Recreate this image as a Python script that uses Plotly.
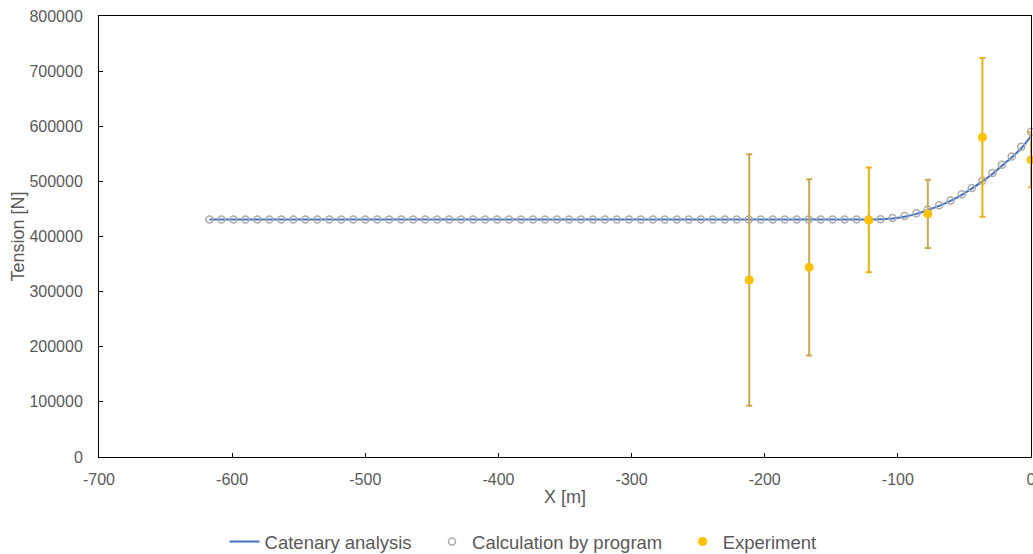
import plotly.graph_objects as go

# ---------------- data ----------------
calc_x = [0, -7.3, -14.5, -21.8, -29.0, -36.5, -44.5, -52.0, -60.5, -69.0, -77.5, -86.0, -95.0, -104.0,
          -113, -122, -131, -140, -149, -158, -167, -176, -185, -194, -203, -212, -221, -230, -239,
          -248, -257, -266, -275, -284, -293, -302, -311, -320, -329, -338, -347, -356, -365, -374,
          -383, -392, -401, -410, -419, -428, -437, -446, -455, -464, -473, -482, -491, -500, -509,
          -518, -527, -536, -545, -554, -563, -572, -581, -590, -599, -608, -617]
calc_y = [590000, 563000, 545000, 530000, 515000, 501000, 488000, 476500, 465500, 456500, 449000,
          442000, 437000, 433500, 431500] + [431000] * 56

cat_x = [-617, -130, -113, -104, -95, -86, -77.5, -69, -60.5, -52, -44.5, -36.5, -29, -21.8, -14.5, -7.3, 0]
cat_y = [431000, 431000, 431300, 432800, 436000, 441000, 448000, 455500, 464500, 475500, 487000,
         500000, 513500, 528500, 543500, 560000, 582000]

exp_x = [-211.6, -166.6, -121.8, -77.5, -36.5, 0]
exp_y = [321000, 344000, 430000, 441000, 580000, 539000]
exp_err = [228000, 160000, 95000, 62000, 144000, 50000]

x_ticks = [-700, -600, -500, -400, -300, -200, -100, 0]
x_tick_labels = ["-700", "-600", "-500", "-400", "-300", "-200", "-100", "0"]
y_ticks = [0, 100000, 200000, 300000, 400000, 500000, 600000, 700000, 800000]

series_names = ["Catenary analysis", "Calculation by program", "Experiment"]

# ---------------- style ----------------
FONT = "Liberation Sans, Arial, sans-serif"
GREY = "#595959"
muted_idx = [0, 1, 3]
bright_idx = [2, 4, 5]
PAD = "\u00a0" * 3  # extra spacing between legend entries

fig = go.Figure()

fig.add_trace(go.Scatter(
    x=cat_x, y=cat_y, mode="lines", name=series_names[0] + PAD,
    line=dict(color="#4472C4", width=2, shape="spline"), cliponaxis=False,
))
fig.add_trace(go.Scatter(
    x=calc_x, y=calc_y, mode="markers", name=series_names[1] + PAD,
    marker=dict(symbol="circle-open", size=7, color="#ABABAB", line=dict(width=1.5)),
    cliponaxis=False,
))

for idx, col, show in [(muted_idx, "#C9AA4E", True), (bright_idx, "#EDB20C", False)]:
    fig.add_trace(go.Scatter(
        x=[exp_x[i] for i in idx], y=[exp_y[i] for i in idx], mode="markers",
        name=series_names[2], legendgroup="exp", showlegend=show,
        marker=dict(symbol="circle", size=9, color="#FFC000"),
        error_y=dict(type="data", array=[exp_err[i] for i in idx], visible=True,
                     color=col, thickness=2, width=3),
        cliponaxis=False,
    ))

fig.update_layout(
    width=1033, height=554,
    margin=dict(l=99, r=2, t=16, b=97, autoexpand=False),
    paper_bgcolor="white", plot_bgcolor="white",
    font=dict(family=FONT, color=GREY, size=16),
    showlegend=True,
    legend=dict(orientation="h", xref="paper", x=0.455, xanchor="center",
                yref="container", y=12 / 554, yanchor="middle",
                font=dict(size=18.5, color=GREY), itemwidth=30, tracegroupgap=0),
)

fig.update_xaxes(
    range=[-700, 0], tickvals=x_ticks, ticktext=x_tick_labels, automargin=False,
    showgrid=False, zeroline=False, showline=True, linecolor="black", linewidth=1, mirror=True,
    ticks="inside", ticklen=4, tickcolor="black", ticklabelstandoff=8, ticklabeloverflow="allow",
    tickfont=dict(size=16, color=GREY),
    title=dict(text="X [m]", font=dict(size=18, color=GREY), standoff=3),
)
fig.update_yaxes(
    range=[0, 800000], tickvals=y_ticks, tickformat="d", automargin=False,
    showgrid=False, zeroline=False, showline=True, linecolor="black", linewidth=1, mirror=True,
    ticks="inside", ticklen=4, tickcolor="black", ticklabelstandoff=12, ticklabeloverflow="allow",
    tickfont=dict(size=16, color=GREY),
    title=dict(text="Tension [N]", font=dict(size=18, color=GREY), standoff=0),
)

fig.write_html("out.html")
